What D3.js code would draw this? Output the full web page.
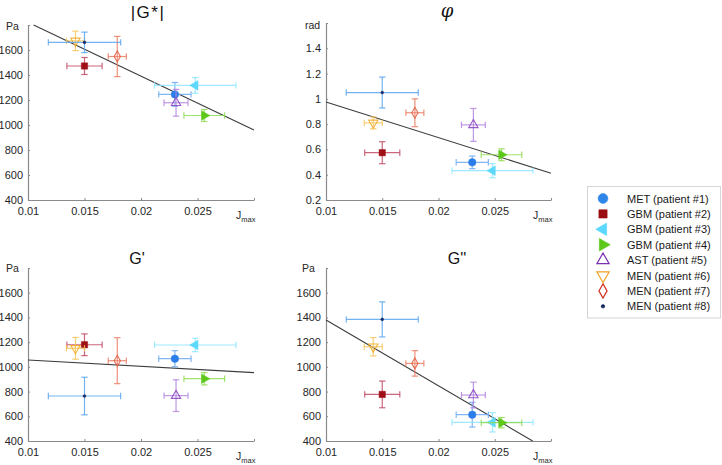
<!DOCTYPE html>
<html>
<head>
<meta charset="utf-8">
<script src="https://cdn.jsdelivr.net/npm/d3@7"></script>
<style>
  html, body { margin: 0; padding: 0; background: #fff; }
  svg { display: block; font-family: "Liberation Sans", Arial, sans-serif; }
</style>
</head>
<body>
<svg id="chart" width="722" height="465"></svg>
<script>
// ---------------- DATA ----------------
const categories = ["MET (patient #1)", "GBM (patient #2)", "GBM (patient #3)", "GBM (patient #4)",
                    "AST (patient #5)", "MEN (patient #6)", "MEN (patient #7)", "MEN (patient #8)"];
const jmax     = [0.0230, 0.0150, 0.0248, 0.0256, 0.0231, 0.0142, 0.0179, 0.0150];
const jmaxErr  = [0.00143, 0.00156, 0.0036, 0.0018, 0.00106, 0.0008, 0.0008, 0.0032];

const gStar      = [1245, 1472, 1317, 1076, 1178, 1673, 1548, 1661];
const gStarErr   = [95, 68, 63, 48, 107, 78, 161, 82];
const phi        = [0.498, 0.574, 0.432, 0.558, 0.794, 0.810, 0.890, 1.050];
const phiErr     = [0.050, 0.087, 0.056, 0.047, 0.130, 0.047, 0.110, 0.122];
const gPrime     = [1066, 1179, 1177, 904, 767, 1150, 1050, 764];
const gPrimeErr  = [65, 88, 54, 50, 128, 88, 186, 152];
const gDouble    = [613, 777, 551, 548, 772, 1163, 1028, 1384];
const gDoubleErr = [100, 108, 78, 42, 104, 74, 103, 142];

// trend line endpoints (x in Jmax, y in panel units)
const trendGStarX = [0.0105, 0.03],  trendGStarY = [1800, 960];
const trendPhiX   = [0.01, 0.03],    trendPhiY   = [0.975, 0.412];
const trendGPX    = [0.01, 0.03],    trendGPY    = [1055, 953];
const trendGDX    = [0.01, 0.02837], trendGDY    = [1379, 400];

const xTickValues = [0.01, 0.015, 0.02, 0.025, 0.03];
const xTickLabels = ["0.01", "0.015", "0.02", "0.025", ""];
const paTickValues = [400, 600, 800, 1000, 1200, 1400, 1600, 1800];
const paTickLabels = ["400", "600", "800", "1000", "1200", "1400", "1600", ""];
const radTickValues = [0.2, 0.4, 0.6, 0.8, 1.0, 1.2, 1.4, 1.6];
const radTickLabels = ["0.2", "0.4", "0.6", "0.8", "1", "1.2", "1.4", ""];

// ---------------- STYLE ----------------
const markerColor = ["#2b7de9", "#9e0f16", "#5cd8fa", "#5cc81a", "#8a3fc0", "#f0a822", "#e0583c", "#16265e"];
const errColor    = ["#6eaaf0", "#c24c66", "#8ce6ff", "#90dc52", "#b386e0", "#f5c55c", "#ec7c64", "#5aa6f0"];
const legendColor = ["#2e86e8", "#9a0e12", "#5ad8ff", "#5cc81a", "#7a30b0", "#f0a020", "#d03020", "#16265e"];
const filled      = [true, true, true, true, false, false, false, true];

function symbolPath(i, scale) {
  const s = scale || 1;
  switch (i) {
    case 0: return { d: d3.symbol(d3.symbolCircle, 44 * s)(), rot: 0 };
    case 1: return { d: d3.symbol(d3.symbolSquare, 40 * s)(), rot: 0 };
    case 2: return { d: d3.symbol(d3.symbolTriangle, 40 * s)(), rot: -90 };
    case 3: return { d: d3.symbol(d3.symbolTriangle, 40 * s)(), rot: 90 };
    case 4: return { d: d3.symbol(d3.symbolTriangle, 38 * s)(), rot: 0 };
    case 5: return { d: d3.symbol(d3.symbolTriangle, 38 * s)(), rot: 180 };
    case 6: return { d: d3.symbol(d3.symbolDiamond, 34 * s)(), rot: 0 };
    case 7: return { d: d3.symbol(d3.symbolCircle, 6 * s)(), rot: 0 };
  }
}

const svg = d3.select("#chart");

const panels = [
  { title: "|G*|", italic: false, tx: 148, ty: 18, x0: 28, x1: 254, yTop: 25, yBot: 200,
    yDomain: [400, 1800], yTicks: paTickValues, yLabels: paTickLabels, unit: "Pa", ux: 6, uy: 30,
    vals: gStar, errs: gStarErr, trX: trendGStarX, trY: trendGStarY },
  { title: "\u03C6", italic: true, tx: 447, ty: 17, x0: 326, x1: 551, yTop: 23, yBot: 200,
    yDomain: [0.2, 1.6], yTicks: radTickValues, yLabels: radTickLabels, unit: "rad", ux: 305, uy: 29,
    vals: phi, errs: phiErr, trX: trendPhiX, trY: trendPhiY },
  { title: "G'", italic: false, tx: 137, ty: 264, x0: 28, x1: 254, yTop: 268, yBot: 441,
    yDomain: [400, 1800], yTicks: paTickValues, yLabels: paTickLabels, unit: "Pa", ux: 6, uy: 272,
    vals: gPrime, errs: gPrimeErr, trX: trendGPX, trY: trendGPY },
  { title: "G''", italic: false, tx: 457, ty: 264, x0: 326, x1: 551, yTop: 268, yBot: 441,
    yDomain: [400, 1800], yTicks: paTickValues, yLabels: paTickLabels, unit: "Pa", ux: 302, uy: 272,
    vals: gDouble, errs: gDoubleErr, trX: trendGDX, trY: trendGDY }
];

panels.forEach((p, pi) => {
  const x = d3.scaleLinear().domain([0.01, 0.03]).range([p.x0, p.x1]);
  const y = d3.scaleLinear().domain(p.yDomain).range([p.yBot, p.yTop]);
  const g = svg.append("g");

  // axes
  const xAxis = d3.axisBottom(x).tickValues(xTickValues)
    .tickFormat((d, i) => xTickLabels[i]).tickSizeInner(-2).tickSizeOuter(0).tickPadding(7);
  const yAxis = d3.axisLeft(y).tickValues(p.yTicks)
    .tickFormat((d, i) => p.yLabels[i]).tickSizeInner(-2).tickSizeOuter(0).tickPadding(5);

  const gx = g.append("g").attr("transform", `translate(0,${p.yBot})`).call(xAxis);
  const gy = g.append("g").attr("transform", `translate(${p.x0},0)`).call(yAxis);
  [gx, gy].forEach(a => {
    a.select(".domain").attr("stroke", "#8a8a8a").attr("stroke-width", 1.2);
    a.selectAll(".tick line").attr("stroke", "#8a8a8a");
    a.selectAll(".tick text").attr("fill", "#262626").style("font-size", "11px")
      .style("font-family", "'Liberation Sans', Arial, sans-serif");
  });

  // unit label
  g.append("text").attr("x", p.ux).attr("y", p.uy).text(p.unit)
    .attr("fill", "#262626").style("font-size", "10.5px");
  // J_max label
  const jl = g.append("text").attr("x", p.x1 - 18).attr("y", p.yBot + 19)
    .attr("fill", "#262626").style("font-size", "10.5px");
  jl.append("tspan").text("J");
  jl.append("tspan").attr("dy", 3).style("font-size", "7.5px").text("max");

  // title
  const t = g.append("text").attr("x", p.tx).attr("y", p.ty).attr("text-anchor", "middle")
    .attr("fill", "#111").text(p.title);
  if (p.italic) {
    t.style("font-family", "'DejaVu Serif', 'Liberation Serif', serif").style("font-style", "italic")
      .style("font-size", "18px");
  } else {
    t.style("font-size", "16px");
    if (p.title === "|G*|") t.style("letter-spacing", "1.5px").style("font-size", "17px");
  }

  // trend line
  g.append("line")
    .attr("x1", x(p.trX[0])).attr("y1", y(p.trY[0]))
    .attr("x2", x(p.trX[1])).attr("y2", y(p.trY[1]))
    .attr("stroke", "#3c3c3c").attr("stroke-width", 1.1);

  // series
  const cap = 3.2;
  categories.forEach((c, i) => {
    const cx = x(jmax[i]), cy = y(p.vals[i]);
    const xl = x(jmax[i] - jmaxErr[i]), xr = x(jmax[i] + jmaxErr[i]);
    const yt = y(p.vals[i] + p.errs[i]), yb = y(p.vals[i] - p.errs[i]);
    const eg = g.append("g").attr("stroke", errColor[i]).attr("stroke-width", 1.2)
      .attr("stroke-opacity", 0.85).attr("fill", "none");
    eg.append("line").attr("x1", xl).attr("x2", xr).attr("y1", cy).attr("y2", cy);
    eg.append("line").attr("x1", xl).attr("x2", xl).attr("y1", cy - cap).attr("y2", cy + cap);
    eg.append("line").attr("x1", xr).attr("x2", xr).attr("y1", cy - cap).attr("y2", cy + cap);
    eg.append("line").attr("x1", cx).attr("x2", cx).attr("y1", yt).attr("y2", yb);
    eg.append("line").attr("x1", cx - cap).attr("x2", cx + cap).attr("y1", yt).attr("y2", yt);
    eg.append("line").attr("x1", cx - cap).attr("x2", cx + cap).attr("y1", yb).attr("y2", yb);

    const sp = symbolPath(i, 1);
    g.append("path").attr("d", sp.d)
      .attr("transform", `translate(${cx},${cy}) rotate(${sp.rot})`)
      .attr("fill", filled[i] ? markerColor[i] : "none")
      .attr("stroke", markerColor[i]).attr("stroke-width", filled[i] ? 0.6 : 1.1)
      .attr("stroke-opacity", 0.85);
  });
});

// ---------------- LEGEND ----------------
const lg = svg.append("g");
lg.append("rect").attr("x", 587.5).attr("y", 186.5).attr("width", 133).attr("height", 131.5)
  .attr("fill", "#fff").attr("stroke", "#d6d6d6").attr("stroke-width", 1);
categories.forEach((c, i) => {
  const ry = 198.5 + i * 15.4;
  const sp = symbolPath(i, i === 7 ? 1.6 : 1.7);
  lg.append("path").attr("d", sp.d)
    .attr("transform", `translate(603,${ry}) rotate(${sp.rot})`)
    .attr("fill", filled[i] ? legendColor[i] : "none")
    .attr("stroke", legendColor[i]).attr("stroke-width", filled[i] ? 0.6 : 1.2);
  lg.append("text").attr("x", 627).attr("y", ry + 4).text(c)
    .attr("fill", "#1a1a1a").style("font-size", "11px");
});
</script>
</body>
</html>
